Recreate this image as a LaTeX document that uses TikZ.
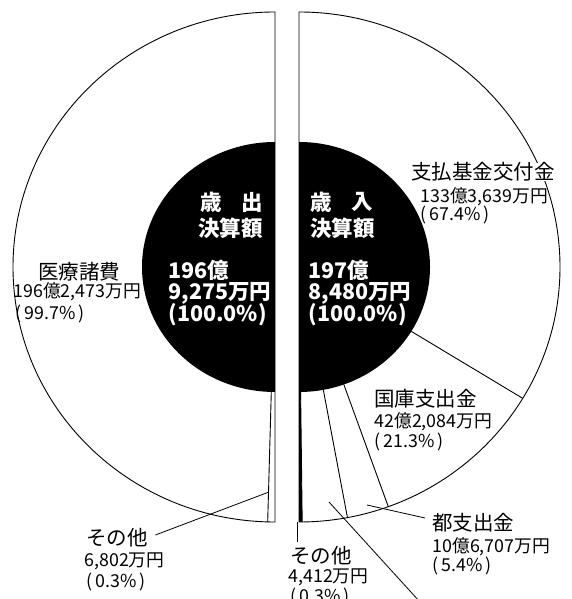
\documentclass[tikz,border=0pt]{standalone}
\usepackage{fontspec}
\setmainfont{Noto Sans CJK JP}
\usetikzlibrary{calc}
\newcommand{\pct}[1]{(\kern3pt#1\%\kern3pt)}
\begin{document}
\begin{tikzpicture}[x=1pt,y=1pt,line width=0.9pt,
  lab/.style={anchor=west,inner sep=0pt,font=\fontsize{20.5}{20.5}\selectfont},
  num/.style={anchor=west,inner sep=0pt,font=\fontsize{17.8}{17.8}\selectfont},
  ctrw/.style={anchor=west,inner sep=0pt,text=white,font=\bfseries\fontsize{21.5}{21.5}\selectfont},
  ctre/.style={anchor=east,inner sep=0pt,text=white,font=\bfseries\fontsize{21.5}{21.5}\selectfont},
  leader/.style={line width=0.8pt}]
\useasboundingbox (0,0) rectangle (572,599);
\fill[white] (0,0) rectangle (572,599);
\coordinate (L) at (275,332);
\coordinate (R) at (299,332);
% outer half discs
\draw[fill=white] (275,587) arc[start angle=90,end angle=270,x radius=262,y radius=255] -- cycle;
\draw[fill=white] (299,587) arc[start angle=90,end angle=-90,x radius=261,y radius=255] -- cycle;
% inner black half discs
\fill[black] (275,457) arc[start angle=90,end angle=270,x radius=133,y radius=125] -- cycle;
\fill[black] (299,457) arc[start angle=90,end angle=-90,x radius=131,y radius=125] -- cycle;
% slice boundaries, right half
\foreach \a [count=\i] in {-31,-70,-79.3,-89.3} {
  \coordinate (ri\i) at ($(R)+({131*cos(\a)},{125*sin(\a)})$);
  \coordinate (ro\i) at ($(R)+({261*cos(\a)},{255*sin(\a)})$);
  \draw (ri\i) -- (ro\i);
}
\fill[black] (ri4) -- (ro4) -- (299,77) -- (299,207) -- cycle;
% slice boundary, left half
\coordinate (li1) at ($(L)+({133*cos(268.4)},{125*sin(268.4)})$);
\coordinate (lo1) at ($(L)+({262*cos(268.4)},{255*sin(268.4)})$);
\draw (li1) -- (lo1);

% center texts
\node[ctrw] (s1) at (200,397) {歳};
\node[ctre] (s2) at (263,397) {出};
\node[ctre] (s3) at (263,371) {決算額};
\node[ctrw] (s4) at (168,329) {196億};
\node[ctrw] (s5) at (168,306) {9,275万円};
\node[ctrw] (s6) at (168,284) {(100.0\%)};
\node[ctrw] (r1) at (310,397) {歳};
\node[ctre] (r2) at (373,397) {入};
\node[ctrw] (r3) at (310,371) {決算額};
\node[ctrw] (r4) at (308,329) {197億};
\node[ctrw] (r5) at (308,306) {8,480万円};
\node[ctrw] (r6) at (308,284) {(100.0\%)};

% labels
\node[lab,fill=white] (a1) at (411,427) {支払基金交付金};
\node[num] (a2) at (420,402) {133億3,639万円};
\node[num] (a3) at (420,384) {\pct{67.4}};
\node[lab] (b1) at (38,327) {医療諸費};
\node[num] (b2) at (13,307) {196億2,473万円};
\node[num] (b3) at (15,285) {\pct{99.7}};
\node[lab] (c1) at (374,200) {国庫支出金};
\node[num] (c2) at (374,177) {42億2,084万円};
\node[num] (c3) at (374,157) {\pct{21.3}};
\node[lab] (d1) at (432,76) {都支出金};
\node[num] (d2) at (432,52) {10億6,707万円};
\node[num] (d3) at (432,33) {\pct{5.4}};
\node[lab] (e1) at (86,61) {その他};
\node[num] (e2) at (84,38) {6,802万円};
\node[num] (e3) at (86,17) {\pct{0.3}};
\node[lab] (f1) at (290,43) {その他};
\node[num] (f2) at (288,22) {4,412万円};
\node[num] (f3) at (290,2) {\pct{0.3}};

% leader lines
\coordinate (e0) at (269,107);
\draw[leader] (e0) -- ($(e1.east)+(7,3)$);
\coordinate (f0) at (297,77);
\draw[leader] (f0) -- ($(f1.north west)+(7,4)$);
\coordinate (d0) at (367,94);
\draw[leader] (d0) -- ($(d1.west)+(-7,5)$);
\coordinate (g0) at (329,97);
\coordinate (g1) at (420,-3);
\draw[leader] (g0) -- (g1);
\end{tikzpicture}
\end{document}
